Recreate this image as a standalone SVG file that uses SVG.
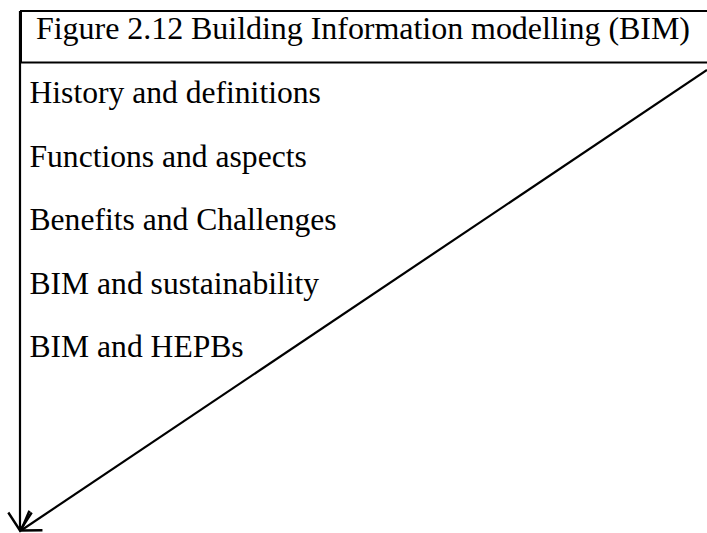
<svg xmlns="http://www.w3.org/2000/svg" width="707" height="533" viewBox="0 0 707 533">
<style>
.t{font-family:"Liberation Serif","Times New Roman",serif;font-size:31.6px;fill:#000}
.tt{font-size:32px}
.ln{stroke:#000;stroke-width:2.2;fill:none}
</style>
<defs>
<marker id="ah" markerUnits="userSpaceOnUse" markerWidth="30" markerHeight="30" viewBox="-22 -15 26 30" refX="0" refY="0" orient="auto">
<path d="M-18,-11.7 L0,0 L-18,11.7" fill="none" stroke="#000" stroke-width="2.4"/>
</marker>
</defs>
<rect width="707" height="533" fill="#fff"/>
<g id="title">
<rect x="21" y="11" width="700" height="51.5" fill="none" stroke="#000" stroke-width="2"/>
<text class="t tt" x="36" y="39.3" textLength="654" lengthAdjust="spacing">Figure 2.12 Building Information modelling (BIM)</text>
</g>
<g id="items">
<text class="t" x="29.5" y="103.3">History and definitions</text>
<text class="t" x="29.5" y="166.7">Functions and aspects</text>
<text class="t" x="29.5" y="230">Benefits and Challenges</text>
<text class="t" x="29.5" y="293.7">BIM and sustainability</text>
<text class="t" x="29.5" y="357">BIM and HEPBs</text>
</g>
<g id="connectors">
<line class="ln" x1="20" y1="11" x2="20" y2="530.5" marker-end="url(#ah)"/>
<line class="ln" x1="707" y1="70" x2="21" y2="530.5" marker-end="url(#ah)"/>
</g>
</svg>
